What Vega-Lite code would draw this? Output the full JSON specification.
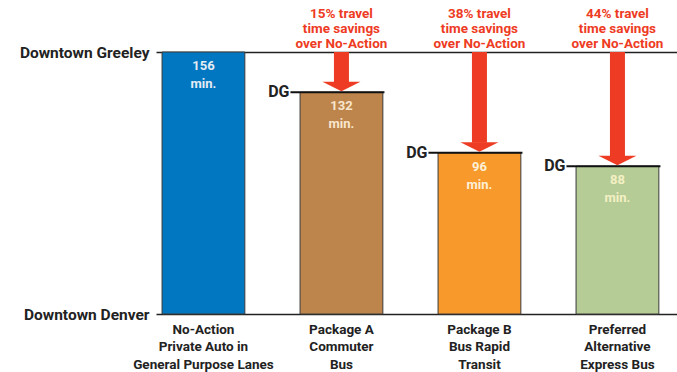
{
  "$schema": "https://vega.github.io/schema/vega-lite/v6.json",
  "width": 521,
  "height": 262,
  "autosize": {"type": "none"},
  "padding": {"left": 156, "top": 52, "right": 0, "bottom": 58},
  "background": "white",
  "config": {"view": {"stroke": null}, "font": "Roboto"},
  "data": {"values": [
    {"cat": "No-Action|Private Auto in|General Purpose Lanes", "min": 156, "label": "156|min.", "savings": null},
    {"cat": "Package A|Commuter|Bus", "min": 132, "label": "132|min.", "savings": "15% travel|time savings|over No-Action"},
    {"cat": "Package B|Bus Rapid|Transit", "min": 96, "label": "96|min.", "savings": "38% travel|time savings|over No-Action"},
    {"cat": "Preferred|Alternative|Express Bus", "min": 88, "label": "88|min.", "savings": "44% travel|time savings|over No-Action"}
  ]},
  "encoding": {
    "x": {
      "field": "cat", "type": "nominal", "sort": null,
      "scale": {"paddingInner": 0.4, "paddingOuter": 0.0877, "align": 0.25, "round": false},
      "axis": {
        "title": null, "domain": false, "ticks": false, "labelAngle": 0,
        "labelExpr": "split(datum.value, '|')",
        "labelFont": "Roboto", "labelFontSize": 13.5, "labelFontWeight": "bold",
        "labelLineHeight": 17.5, "labelBaseline": "top", "labelPadding": 8, "labelColor": "#222222"
      }
    }
  },
  "layer": [
    {
      "mark": {"type": "bar", "stroke": "#3a3a3a", "strokeWidth": 1},
      "encoding": {
        "y": {
          "field": "min", "type": "quantitative",
          "scale": {"domain": [0, 156], "nice": false, "zero": true},
          "axis": {
            "title": null, "values": [0, 156], "grid": true, "gridColor": "#222222", "gridWidth": 1.5, "gridOpacity": 1,
            "ticks": false, "domain": false,
            "labelExpr": "datum.value == 156 ? 'Downtown Greeley' : 'Downtown Denver'",
            "labelFont": "Roboto", "labelFontSize": 15.5, "labelFontWeight": "bold",
            "labelColor": "#222222", "labelPadding": 7
          }
        },
        "color": {
          "field": "cat", "type": "nominal", "legend": null,
          "scale": {
            "domain": ["No-Action|Private Auto in|General Purpose Lanes", "Package A|Commuter|Bus", "Package B|Bus Rapid|Transit", "Preferred|Alternative|Express Bus"],
            "range": ["#0077c0", "#bd854c", "#f7992b", "#b5cc96"]
          }
        }
      }
    },
    {
      "transform": [{"filter": "datum.savings != null"}],
      "mark": {"type": "tick", "orient": "horizontal", "size": 94, "thickness": 2, "color": "#111111", "xOffset": -4, "opacity": 1},
      "encoding": {"y": {"field": "min", "type": "quantitative"}}
    },
    {
      "transform": [{"filter": "datum.savings != null"}],
      "mark": {"type": "text", "text": "DG", "align": "right", "baseline": "middle", "xOffset": -52, "font": "Roboto", "fontSize": 16, "fontWeight": "bold", "color": "#222222"},
      "encoding": {"y": {"field": "min", "type": "quantitative"}}
    },
    {
      "transform": [{"filter": "datum.savings != null"}],
      "mark": {"type": "rule", "strokeWidth": 15, "color": "#ee3b23", "yOffset": -10},
      "encoding": {"y": {"field": "min", "type": "quantitative"}, "y2": {"datum": 156}}
    },
    {
      "transform": [{"filter": "datum.savings != null"}],
      "mark": {"type": "point", "shape": "M-1,-0.5L1,-0.5L0,0Z", "size": 1444, "filled": true, "color": "#ee3b23", "opacity": 1, "strokeWidth": 0, "yOffset": -1},
      "encoding": {"y": {"field": "min", "type": "quantitative"}}
    },
    {
      "transform": [{"filter": "datum.savings != null"}],
      "mark": {"type": "text", "lineBreak": "|", "baseline": "top", "yOffset": -45, "lineHeight": 15, "font": "Roboto", "fontSize": 13.5, "fontWeight": "bold", "color": "#ee3b23"},
      "encoding": {"y": {"datum": 156, "type": "quantitative"}, "text": {"field": "savings"}}
    },
    {
      "mark": {"type": "text", "lineBreak": "|", "baseline": "top", "yOffset": 8, "lineHeight": 18, "font": "Roboto", "fontSize": 13, "fontWeight": "bold"},
      "encoding": {
        "y": {"field": "min", "type": "quantitative"},
        "text": {"field": "label"},
        "color": {
          "field": "cat", "type": "nominal", "legend": null,
          "scale": {
            "domain": ["No-Action|Private Auto in|General Purpose Lanes", "Package A|Commuter|Bus", "Package B|Bus Rapid|Transit", "Preferred|Alternative|Express Bus"],
            "range": ["#e4ecf4", "#f8e6cc", "#fdf0d8", "#f4f0c4"]
          }
        }
      }
    }
  ],
  "resolve": {"scale": {"color": "independent"}, "legend": {"color": "independent"}}
}
